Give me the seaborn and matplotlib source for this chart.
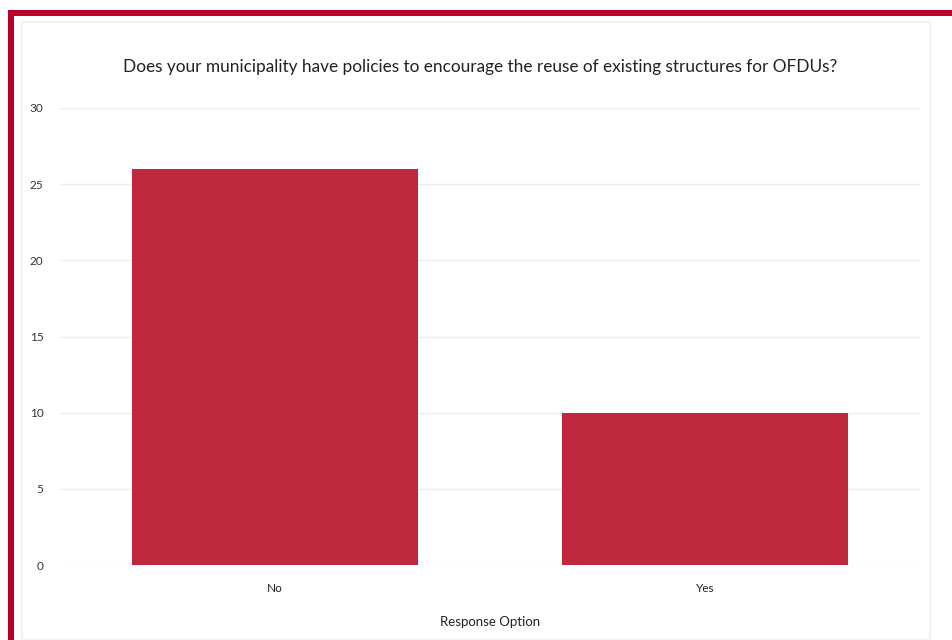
import matplotlib
matplotlib.use("Agg")
import matplotlib.pyplot as plt
from matplotlib.patches import Rectangle
import seaborn as sns
import pandas as pd

categories = ["No", "Yes"]
counts = [26, 10]
y_ticks = [0, 5, 10, 15, 20, 25, 30]

title = "Does your municipality have policies to encourage the reuse of existing structures for OFDUs?"
x_label = "Response Option"

sns.set_theme(style="white")
plt.rcParams["font.family"] = ["Lato", "DejaVu Sans"]

df = pd.DataFrame({"Response Option": categories, "Count": counts})

W, H = 953, 640
fig = plt.figure(figsize=(W / 100, H / 100), dpi=100)
fig.patch.set_facecolor("white")

# card outline (faint) and red frame
fig.patches.append(Rectangle((22 / W, 0), (930 - 22) / W, (H - 22) / H,
                             transform=fig.transFigure, fill=False,
                             edgecolor="#f1f1f1", linewidth=1.5, zorder=0))
fig.patches.append(Rectangle((8 / W, 0), 6 / W, (H - 10) / H,
                             transform=fig.transFigure, facecolor="#b8002b",
                             edgecolor="none", zorder=5))
fig.patches.append(Rectangle((8 / W, (H - 16) / H), (W - 8) / W, 6 / H,
                             transform=fig.transFigure, facecolor="#b8002b",
                             edgecolor="none", zorder=5))

ax = fig.add_axes([60 / W, (H - 565) / H, (920 - 60) / W, (565 - 108) / H])
sns.barplot(data=df, x="Response Option", y="Count", ax=ax,
            color="#bf273c", width=0.665, saturation=1, edgecolor="none")

ax.set_ylim(0, 30)
ax.set_xlim(-0.5, 1.5)
ax.set_yticks(y_ticks)
ax.set_yticklabels([str(v) for v in y_ticks], fontsize=8.5, color="#333333")
ax.tick_params(axis="y", length=0, pad=12)
ax.tick_params(axis="x", length=0, pad=13, labelsize=8.5, labelcolor="#222222")
ax.yaxis.grid(True, color="#ededed", linewidth=1)
ax.set_axisbelow(True)
for s in ax.spines.values():
    s.set_visible(False)
ax.set_ylabel("")
ax.set_xlabel(x_label, fontsize=9.5, color="#222222", labelpad=16)

fig.text(480 / W, (H - 67) / H, title, ha="center", va="center",
         fontsize=12.4, color="#222222")

fig.savefig("out.png", dpi=100)
